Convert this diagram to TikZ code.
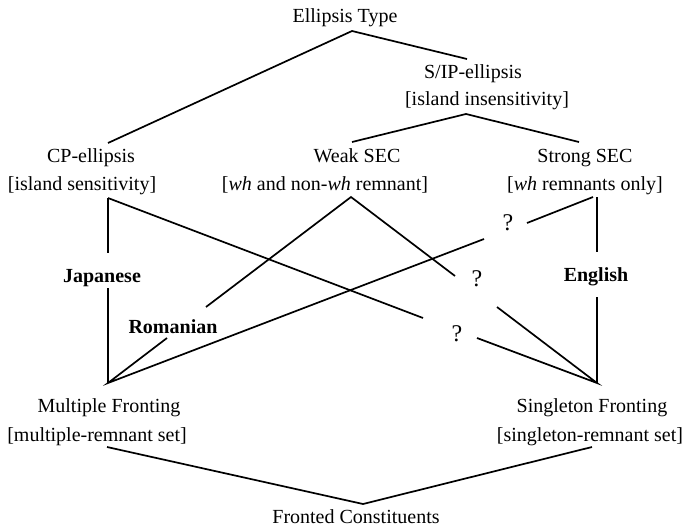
\documentclass[tikz,border=0pt]{standalone}
\usepackage{fontspec}
\setmainfont{Liberation Serif}
\begin{document}
\begin{tikzpicture}[x=1pt,y=-1pt,
  lbl/.style={inner sep=0pt,anchor=base,font=\fontsize{20}{24}\selectfont},
  lang/.style={lbl,font=\fontsize{20}{24}\selectfont\bfseries},
  qm/.style={lbl,font=\fontsize{24}{28}\selectfont},
  conn/.style={line width=1.7pt,line cap=butt,line join=miter}]
\useasboundingbox (0,0) rectangle (685,527);
% text nodes
\node[lbl] (et) at (345,23) {Ellipsis Type};
\node[lbl] (sip1) at (473,78) {S/IP-ellipsis};
\node[lbl] (sip2) at (487,105) {[island insensitivity]};
\node[lbl] (cp1) at (91,162) {CP-ellipsis};
\node[lbl] (cp2) at (82,190) {[island sensitivity]};
\node[lbl] (wk1) at (357,162) {Weak SEC};
\node[lbl] (wk2) at (325,190) {[\textit{wh} and non-\textit{wh} remnant]};
\node[lbl] (st1) at (585,162) {Strong SEC};
\node[lbl] (st2) at (585,190) {[\textit{wh} remnants only]};
\node[lang] (jap) at (102,282) {Japanese};
\node[lang] (rom) at (173,333) {Romanian};
\node[lang] (eng) at (596,281) {English};
\node[qm] (q1) at (508,230) {?};
\node[qm] (q2) at (477,286) {?};
\node[qm] (q3) at (457,341) {?};
\node[lbl] (mf1) at (109,412) {Multiple Fronting};
\node[lbl] (mf2) at (97,441) {[multiple-remnant set]};
\node[lbl] (sf1) at (592,412) {Singleton Fronting};
\node[lbl] (sf2) at (590,441) {[singleton-remnant set]};
\node[lbl] (fc) at (356,523) {Fronted Constituents};
% connector end points
\coordinate (etB) at (352,31);
\coordinate (sipT) at (467,59);
\coordinate (cpT) at (108,143);
\coordinate (sipB) at (466,114);
\coordinate (wkT) at (352,142);
\coordinate (stT) at (579,142);
\coordinate (cpB) at (108,198);
\coordinate (japT) at (108,253);
\coordinate (japB) at (108,288);
\coordinate (mfT) at (108,383);
\coordinate (q3L) at (423,318);
\coordinate (q3R) at (477,338);
\coordinate (wkB) at (351,197);
\coordinate (romT) at (206,307);
\coordinate (romB) at (167,338);
\coordinate (q2L) at (455,276);
\coordinate (q2R) at (497,307);
\coordinate (stBa) at (593,197);
\coordinate (stBb) at (597,197);
\coordinate (q1R) at (527,223);
\coordinate (q1L) at (484,239);
\coordinate (engT) at (597,252);
\coordinate (engB) at (597,297);
\coordinate (sfT) at (597,383);
\coordinate (mfB) at (107,447);
\coordinate (sfB) at (592,447);
\coordinate (fcT) at (363,504);
% connectors
\draw[conn] (cpT) -- (etB) -- (sipT);
\draw[conn] (wkT) -- (sipB) -- (stT);
\draw[conn] (cpB) -- (japT);
\draw[conn] (japB) -- (mfT);
\draw[conn] (cpB) -- (q3L);
\draw[conn] (romT) -- (wkB) -- (q2L);
\draw[conn] (romB) -- (mfT) -- (q1L);
\draw[conn] (q1R) -- (stBa);
\draw[conn] (stBb) -- (engT);
\draw[conn] (engB) -- (sfT);
\draw[conn] (q2R) -- (sfT) -- (q3R);
\draw[conn] (mfB) -- (fcT) -- (sfB);
\end{tikzpicture}
\end{document}
